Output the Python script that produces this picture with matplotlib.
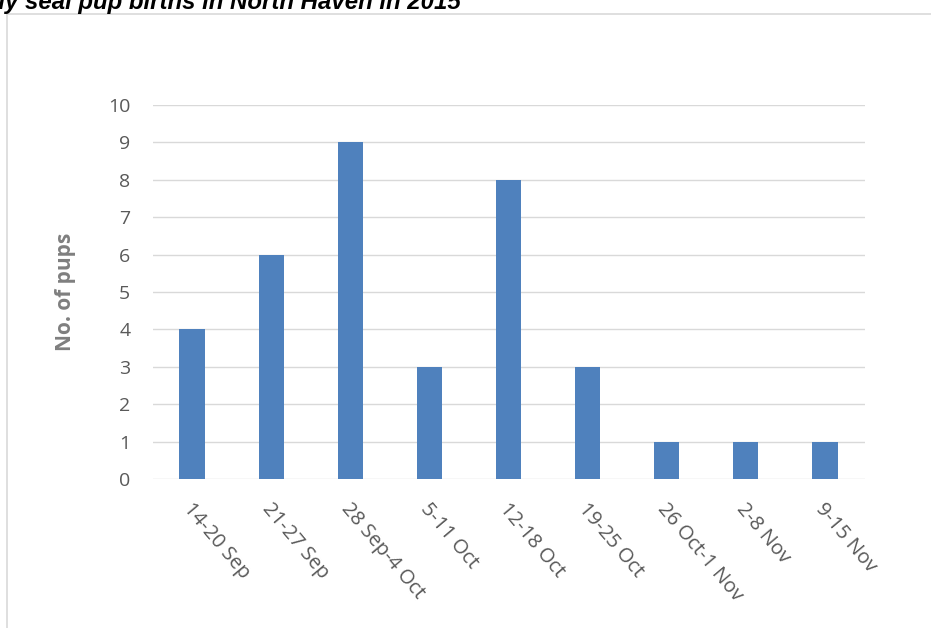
import matplotlib
matplotlib.use('Agg')
import matplotlib.pyplot as plt
from matplotlib.lines import Line2D
import matplotlib.transforms as mtransforms
import numpy as np

# weekly pup counts
weeks = ['14-20 Sep', '21-27 Sep', '28 Sep-4 Oct', '5-11 Oct', '12-18 Oct',
         '19-25 Oct', '26 Oct-1 Nov', '2-8 Nov', '9-15 Nov']
pups = [4, 6, 9, 3, 8, 3, 1, 1, 1]
yticks = list(range(0, 11))

title = 'Weekly seal pup births in North Haven in 2015'

W, H = 931, 628
fig = plt.figure(figsize=(W / 100, H / 100), dpi=100)
fig.patch.set_facecolor('white')

# outer chart frame (cut off at right / bottom in the screenshot)
fig.add_artist(Line2D([6.5 / W, 1.0], [1 - 14 / H, 1 - 14 / H], color='#d9d9d9', lw=1.2))
fig.add_artist(Line2D([6.5 / W, 6.5 / W], [0, 1 - 14 / H], color='#d9d9d9', lw=1.2))

# title is partly cut off by the screenshot edge
fig.text(461 / W, 1 - 9.5 / H, title, ha='right', va='baseline', fontsize=17.3,
         fontweight='bold', fontstyle='italic', family='Liberation Sans', color='black')

ax = fig.add_axes([152.5 / W, 1 - 479 / H, (864.5 - 152.5) / W, (479 - 105) / H])
x = np.arange(len(weeks))
ax.bar(x, pups, width=0.32, color='#4F81BD', zorder=3)

ax.set_xlim(-0.5, len(weeks) - 0.5)
ax.set_ylim(0, 10)
ax.set_yticks(yticks)
ax.yaxis.grid(True, color='#d9d9d9', lw=1, zorder=0)
for s in ax.spines.values():
    s.set_visible(False)
ax.tick_params(axis='both', length=0, labelsize=14, labelcolor='#595959')
ax.tick_params(axis='y', pad=16)
for lab in ax.get_yticklabels():
    lab.set_family('Open Sans')

ax.set_xticks(x)
ax.set_xticklabels(weeks, rotation=-50, ha='left', va='top', rotation_mode='anchor',
                   family='Open Sans', fontsize=14.5)
offset = mtransforms.ScaledTranslation(2 / 100, -15 / 100, fig.dpi_scale_trans)
for lab in ax.get_xticklabels():
    lab.set_transform(lab.get_transform() + offset)

ax.set_ylabel('No. of pups', fontsize=15, fontweight='bold', color='#7f7f7f',
              family='Open Sans', labelpad=23)

fig.savefig('out.png', dpi=100)
